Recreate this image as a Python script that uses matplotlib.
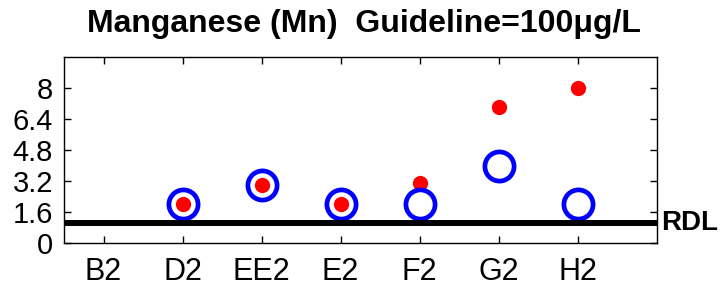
import matplotlib.pyplot as plt
import numpy as np

plt.rcParams['font.family'] = ['Liberation Sans', 'DejaVu Sans']

sites = ["B2", "D2", "EE2", "E2", "F2", "G2", "H2"]
red_vals = [np.nan, 2.0, 3.0, 2.0, 3.1, 7.0, 8.0]
blue_vals = [np.nan, 2.0, 3.0, 2.0, 2.0, 4.0, 2.0]
rdl = 1.05
yticks = [0, 1.6, 3.2, 4.8, 6.4, 8]
ytick_labels = ["0", "1.6", "3.2", "4.8", "6.4", "8"]

x = np.arange(1, len(sites) + 1)

fig = plt.figure(figsize=(7.21, 2.87), dpi=100)
ax = fig.add_axes([0.0888, 0.153, 0.822, 0.648])

ax.plot(x, red_vals, "o", color="red", markersize=11, markeredgewidth=0,
        linestyle="none", zorder=3)
ax.plot(x, blue_vals, "o", markerfacecolor="none", markeredgecolor="blue",
        markersize=21, markeredgewidth=3.4, linestyle="none", zorder=4)
ax.axhline(rdl, color="black", linewidth=4.3, zorder=5)

ax.set_xlim(0.5, 8.0)
ax.set_ylim(0, 9.6)
ax.set_xticks(x)
ax.set_xticklabels(sites, fontsize=22)
ax.set_yticks(yticks)
ax.set_yticklabels(ytick_labels, fontsize=21)
ax.tick_params(direction="in", length=5, width=1, top=True, right=True,
               pad=8)
ax.tick_params(axis="x", pad=10)
for sp in ax.spines.values():
    sp.set_linewidth(1)

ax.text(8.05, rdl, "RDL", fontsize=20, fontweight="bold", va="center",
        ha="left", clip_on=False)
fig.text(0.505, 0.915, "Manganese (Mn)  Guideline=100\u03bcg/L", fontsize=23,
         fontweight="bold", ha="center", va="center")

fig.savefig("out.png", dpi=100)
